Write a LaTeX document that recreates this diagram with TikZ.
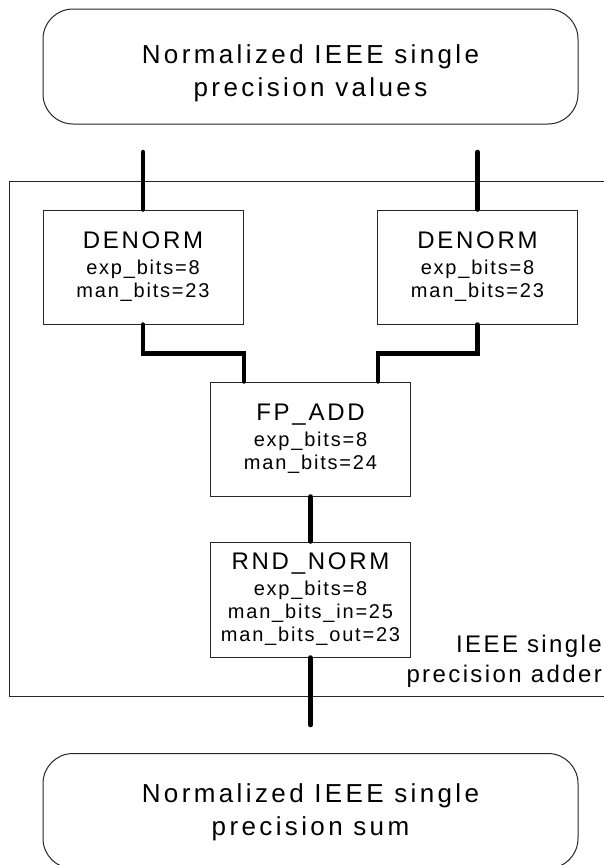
\documentclass[tikz,border=0pt]{standalone}
\usepackage{fontspec}
\setmainfont{Liberation Sans}
\newfontfamily\outerfam[LetterSpace=13]{Liberation Sans}
\newfontfamily\titlefam[LetterSpace=11.5]{Liberation Sans}
\newfontfamily\labelfam[LetterSpace=10]{Liberation Sans}
\newfontfamily\paramfam[LetterSpace=9]{Liberation Sans}
\newcommand\blkttl{\titlefam\fontsize{24}{24}\selectfont}
\newcommand\twolines[3]{\raisebox{#1}[\height][\depth]{\begin{tabular}{@{}c@{}}#2\\#3\end{tabular}}}
\tikzset{
  ext/.style={draw=black!85, line width=1pt, rounded corners=30pt,
    minimum width=535pt, minimum height=115pt, inner sep=0pt, align=center,
    font=\outerfam\fontsize{26}{33}\selectfont},
  blk/.style={draw=black!85, line width=1pt, minimum width=200pt,
    minimum height=114pt, inner sep=0pt, align=center,
    font=\paramfam\fontsize{20}{23}\selectfont},
  wire/.style={line width=4.5pt, line cap=round},
  frm/.style={draw=black!85, line width=1pt},
  lbl/.style={inner sep=0pt, align=right,
    font=\labelfam\fontsize{24}{30}\selectfont}
}
\begin{document}
\begin{tikzpicture}[x=1pt,y=-1pt]
\clip (0,0) rectangle (604,865);
\fill[white] (0,0) rectangle (604,865);
% enclosing adder frame
\draw[frm] (620,181) -- (9.5,181) -- (9.5,696) -- (620,696);
\node[lbl, anchor=south east] (adder) at (602,688) {IEEE single\\precision adder};
% external boxes
\node[ext] (src) at (310.5,66.5) {\twolines{-7pt}{Normalized IEEE single}{precision values}};
\node[ext] (sum) at (310.5,811) {\twolines{-1pt}{Normalized IEEE single}{precision sum}};
% blocks
\node[blk] (denL) at (143,267) {{\blkttl DENORM}\\[3pt]exp\_bits=8\\man\_bits=23};
\node[blk] (denR) at (477.5,267) {{\blkttl DENORM}\\[3pt]exp\_bits=8\\man\_bits=23};
\node[blk] (fp) at (310.5,439) {{\blkttl FP\_ADD}\\[3pt]exp\_bits=8\\man\_bits=24};
\node[blk, minimum height=115pt] (rnd) at (310.5,599.5) {{\blkttl RND\_NORM}\\[3pt]exp\_bits=8\\man\_bits\_in=25\\man\_bits\_out=23};
% free wire ends
\coordinate (inL) at (143,152);
\coordinate (inR) at (477.5,152);
\coordinate (out) at (310.5,725);
% wires
\draw[wire] (inL) -- (denL.north);
\draw[wire] (inR) -- (denR.north);
\draw[wire] (denL.south) -- ++(0,29) -| ([xshift=-66.5pt]fp.north);
\draw[wire] (denR.south) -- ++(0,29) -| ([xshift=67.5pt]fp.north);
\draw[wire] (fp.south) -- (rnd.north);
\draw[wire] (rnd.south) -- (out);
\end{tikzpicture}
\end{document}
